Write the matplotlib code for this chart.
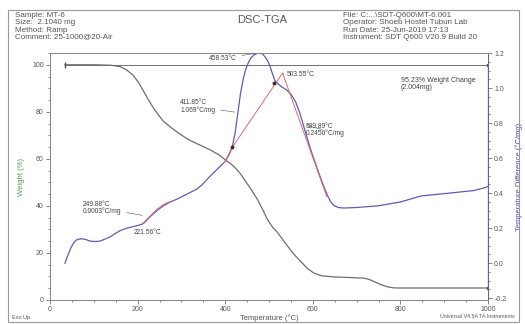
import matplotlib.pyplot as plt
from matplotlib.patches import Rectangle
from matplotlib.ticker import MultipleLocator

plt.rcParams["font.family"] = ["Liberation Sans", "DejaVu Sans"]

# TGA weight curve
weight_temp = [34, 100, 140, 160, 175, 190, 202, 213, 225, 236, 248, 259, 275, 291, 305,
               320, 343, 366, 385, 400, 412, 423, 435, 446, 460, 474, 486, 497, 508, 519,
               534, 549, 560, 572, 587, 602, 620, 648, 680, 716, 728, 739, 755, 770, 785,
               800, 1000]
weight_pct = [100, 100, 99.8, 99.2, 97.8, 95.5, 92.5, 89, 85, 81.7, 78.5, 76, 73.5, 71.3,
              69.5, 67.8, 65.8, 63.8, 61.8, 59.6, 58, 56.2, 53.6, 50.6, 46.8, 42.6, 38.3,
              34, 31, 28.8, 25, 21.3, 18.8, 16.5, 13.5, 11.5, 10.3, 9.8, 9.6, 9.3, 8.8,
              7.9, 6.6, 5.6, 5.15, 5.1, 5.1]

# temperature difference (DSC) curve
dsc_temp = [34, 40, 48, 55, 62, 72, 82, 92, 103, 114, 125, 137, 148, 160, 175, 190, 202,
            213, 221, 229, 244, 259, 275, 291, 313, 336, 348, 359, 370, 382, 392, 400,
            408, 416, 423, 429, 435, 441, 446, 452, 458, 466, 476, 485, 492, 498, 503,
            508, 513, 520, 530, 540, 550, 561, 570, 577, 586, 595, 604, 613, 624, 634,
            641, 648, 658, 670, 700, 750, 801, 847, 892, 938, 968, 991, 1002]
dsc_val = [0.0, 0.04, 0.09, 0.12, 0.135, 0.14, 0.135, 0.126, 0.124, 0.126, 0.137, 0.15,
           0.168, 0.186, 0.2, 0.209, 0.216, 0.226, 0.245, 0.266, 0.3, 0.328, 0.35, 0.367,
           0.395, 0.424, 0.45, 0.48, 0.508, 0.537, 0.562, 0.582, 0.615, 0.661, 0.75, 0.86,
           0.97, 1.05, 1.10, 1.14, 1.17, 1.19, 1.20, 1.195, 1.175, 1.15, 1.12, 1.08, 1.045,
           1.025, 1.005, 0.99, 0.965, 0.92, 0.86, 0.80, 0.725, 0.65, 0.585, 0.52, 0.445,
           0.384, 0.35, 0.33, 0.318, 0.315, 0.318, 0.328, 0.35, 0.384, 0.395, 0.407,
           0.415, 0.43, 0.44]

# red construction lines
red_temp = [213, 229, 245, 259, 272]
red_val = [0.23, 0.27, 0.31, 0.335, 0.35]
peak_temp = [400, 416, 531, 632]
peak_val = [0.582, 0.661, 1.085, 0.38]

onset_temp = [416, 512]
onset_val = [0.661, 1.03]

labels = [
    ("458.53°C", (476, 1.20), (362, 1.17)),
    ("503.55°C", (531, 1.085), (540, 1.075)),
    ("411.85°C\n1.069°C/mg", (428, 0.86), (297, 0.895)),
    ("589.89°C\n0.2450°C/mg", (579, 0.79), (583, 0.76)),
    ("249.88°C\n0.0003°C/mg", (217, 0.27), (75, 0.315)),
]

fig = plt.figure(figsize=(5.25, 3.24), dpi=100)
fig.patches.append(Rectangle((8 / 525, 1 - 322 / 324), 511 / 525, 312 / 324,
                             transform=fig.transFigure, fill=False, ec="#999999", lw=0.8))

ax = fig.add_axes([50 / 525, 1 - 300 / 324, 438 / 525, 247 / 324])
ax2 = ax.twinx()

ax.plot(weight_temp, weight_pct, color="#6e6e6e", lw=0.9)
ax.plot([34, 1000], [100, 100], color="#6e6e6e", lw=0.7)
ax.plot([34], [100], marker="|", color="#555555", ms=4)
ax.plot([1000, 1000], [100, 5.1], color="#555555", lw=0.9, marker="s", ms=2)
ax.text(801, 92, "95.23% Weight Change\n(2.004mg)", fontsize=5, color="#444444",
        linespacing=1.0, va="center")

ax2.plot(dsc_temp, dsc_val, color="#5c5cb8", lw=0.9)
ax2.plot(red_temp, red_val, color="#e06a6a", lw=0.7)
ax2.plot(peak_temp, peak_val, color="#e06a6a", lw=0.7)
ax2.plot(onset_temp, onset_val, "o", color="#333333", ms=1.8)

for text, xy, xytext in labels:
    ax2.annotate(text, xy=xy, xytext=xytext, fontsize=4.8, color="#444444",
                 linespacing=1.0, va="center",
                 arrowprops=dict(arrowstyle="-", lw=0.4, color="#555555"))
ax2.text(190, 0.175, "221.56°C", fontsize=4.8, color="#444444", va="center")

ax.set_xlim(0, 1000)
ax.set_ylim(0, 105)
ax2.set_ylim(-0.21, 1.2)
ax.xaxis.set_major_locator(MultipleLocator(200))
ax.xaxis.set_minor_locator(MultipleLocator(50))
ax.yaxis.set_major_locator(MultipleLocator(20))
ax.yaxis.set_minor_locator(MultipleLocator(5))
ax2.set_yticks([-0.2, 0.0, 0.2, 0.4, 0.6, 0.8, 1.0, 1.2])
ax2.yaxis.set_minor_locator(MultipleLocator(0.05))

for a in (ax, ax2):
    a.tick_params(which="both", direction="out", labelsize=5, colors="#555555",
                  width=0.5, pad=1.5)
    a.tick_params(which="major", length=3)
    a.tick_params(which="minor", length=1.5)
    for s in a.spines.values():
        s.set_color("#888888")
        s.set_linewidth(0.7)
ax2.spines["right"].set_color("#5c5cb8")
ax2.yaxis.set_major_formatter(plt.FuncFormatter(lambda v, p: f"{v:.1f}"))

ax.set_xlabel("Temperature (°C)", fontsize=5.5, color="#555555", labelpad=1)
ax.set_ylabel("Weight (%)", fontsize=5.5, color="#4c9a4c", labelpad=5)
ax2.set_ylabel("Temperature Difference (°C/mg)", fontsize=5.5, color="#4a4ac0",
               rotation=90, labelpad=6)

left_head = "Sample: MT-6\nSize:  2.1040 mg\nMethod: Ramp\nComment: 25-1000@20-Air"
right_head = ("File: C:...\\SDT-Q600\\MT-6.001\nOperator: Shoeb Hostel Tubun Lab\n"
              "Run Date: 25-Jun-2019 17:13\nInstrument: SDT Q600 V20.9 Build 20")
fig.text(15 / 525, 1 - 12 / 324, left_head, fontsize=5.8, color="#555555",
         va="top", linespacing=1.05)
fig.text(343 / 525, 1 - 12 / 324, right_head, fontsize=5.8, color="#555555",
         va="top", linespacing=1.05)
fig.text(262 / 525, 1 - 20 / 324, "DSC-TGA", fontsize=8, color="#555555",
         ha="center", va="center")
fig.text(12 / 525, 1 - 317 / 324, "Exo Up", fontsize=4, color="#555555", va="center")
fig.text(515 / 525, 1 - 317 / 324, "Universal V4.5A TA Instruments", fontsize=3.8,
         color="#555555", ha="right", va="center")

fig.savefig("out.png", dpi=100)
